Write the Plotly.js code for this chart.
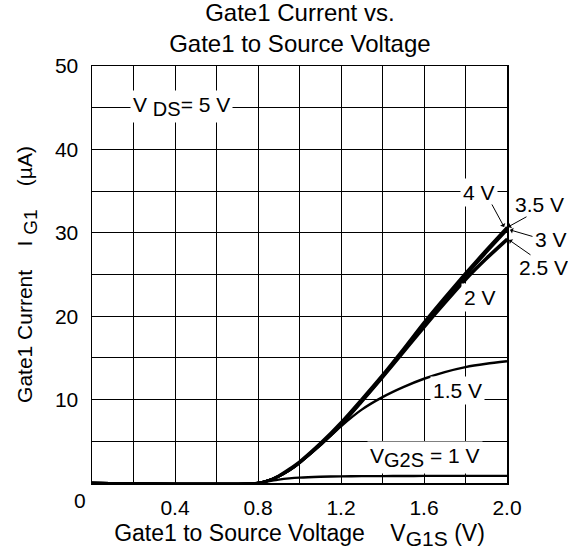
<!DOCTYPE html>
<html>
<head>
<meta charset="utf-8">
<script src="https://cdn.plot.ly/plotly-3.0.1.min.js"></script>
<style>html,body{margin:0;padding:0;background:#fff;}</style>
</head>
<body>
<div id="chart" style="width:568px;height:550px;"></div>
<script>
// Gate1-to-source voltage V_G1S (V)
const vg1s = [0, 0.8, 0.85, 0.9, 0.95, 1.0, 1.1, 1.2, 1.3, 1.4, 1.5, 1.6, 1.7, 1.8, 1.9, 2.0];
// Gate1 current I_G1 (µA) for each V_G2S
const ig1_4V   = [0, 0, 0.3, 0.9, 1.7, 2.6, 4.8, 7.3, 10.1, 13.0, 16.1, 19.3, 22.3, 25.2, 28.0, 30.7];
const ig1_3p5V = [0, 0, 0.3, 0.85, 1.6, 2.5, 4.7, 7.1, 9.9, 12.8, 15.9, 19.1, 22.1, 25.0, 27.8, 30.5];
const ig1_3V   = [0, 0, 0.3, 0.8, 1.5, 2.4, 4.6, 7.0, 9.8, 12.7, 15.8, 18.9, 21.9, 24.8, 27.6, 30.3];
const ig1_2p5V = [0, 0, 0.3, 0.8, 1.5, 2.4, 4.6, 7.0, 9.8, 12.7, 15.7, 18.8, 21.7, 24.5, 27.0, 29.3];
const ig1_2V   = [0, 0, 0.3, 0.8, 1.5, 2.4, 4.5, 6.9, 9.7, 12.6, 15.6, 18.6, 21.5, 24.3, 26.8, 29.1];
const ig1_1p5V = [0, 0, 0.3, 0.8, 1.5, 2.4, 4.5, 6.8, 8.8, 10.3, 11.5, 12.5, 13.3, 13.9, 14.3, 14.6];
const ig1_1V   = [0, 0, 0.2, 0.4, 0.55, 0.65, 0.75, 0.8, 0.82, 0.83, 0.84, 0.85, 0.85, 0.85, 0.85, 0.85];

const seriesNames = ['4 V', '3.5 V', '3 V', '2.5 V', '2 V', '1.5 V', '1 V'];
const seriesData = [ig1_4V, ig1_3p5V, ig1_3V, ig1_2p5V, ig1_2V, ig1_1p5V, ig1_1V];

// Axis ticks / grid
const xGrid = [0, 0.2, 0.4, 0.6, 0.8, 1.0, 1.2, 1.4, 1.6, 1.8, 2.0];
const xTickText = ['', '', '0.4', '', '0.8', '', '1.2', '', '1.6', '', '2.0'];
const yGrid = [0, 5, 10, 15, 20, 25, 30, 35, 40, 45, 50];
const yTickText = ['', '', '10', '', '20', '', '30', '', '40', '', '50'];

const FONT = 'Arial, "Liberation Sans", Helvetica, sans-serif';

const traces = seriesData.map((ys, i) => ({
  x: vg1s, y: ys, name: seriesNames[i], type: 'scatter', mode: 'lines',
  line: {color: '#000', width: 2.4, shape: 'spline', smoothing: 0.8},
  hoverinfo: 'skip'
}));

const sub = (t, s) => '<sub><span style="font-size:' + s + 'px">' + t + '</span></sub>';
const SP = '\u00a0\u00a0\u00a0\u00a0';

const lab = (x, y, text, bg, ref) => ({
  x: x, y: y, xref: ref || 'x', yref: ref ? 'paper' : 'y', text: text, showarrow: false,
  xanchor: 'center', yanchor: 'middle',
  font: {family: FONT, size: 21, color: '#000'},
  bgcolor: bg ? '#fff' : 'rgba(0,0,0,0)', borderpad: 2
});
const arr = (x, y, ax, ay, ref) => ({
  x: x, y: y, xref: ref || 'x', yref: ref ? 'paper' : 'y', text: '', showarrow: true,
  ax: ax, ay: ay, arrowhead: 1, arrowsize: 1, arrowwidth: 1, arrowcolor: '#000'
});

const layout = {
  width: 568, height: 550,
  margin: {l: 92, r: 61, t: 66, b: 67},
  paper_bgcolor: '#fff', plot_bgcolor: '#fff',
  showlegend: false,
  font: {family: FONT, size: 21, color: '#000'},
  title: {
    text: 'Gate1 Current vs.<br>Gate1 to Source Voltage',
    font: {family: FONT, size: 24, color: '#000'},
    x: 0.528, xanchor: 'center', y: 0.962, yanchor: 'top'
  },
  xaxis: {
    range: [0, 2.0], tickmode: 'array', tickvals: xGrid, ticktext: xTickText,
    showgrid: true, gridcolor: '#000', gridwidth: 1, zeroline: false,
    showline: true, linecolor: '#000', linewidth: 1.5, mirror: true,
    ticks: '', ticklabelstandoff: 5,
    tickfont: {family: FONT, size: 21, color: '#000'},
    title: {text: 'Gate1 to Source Voltage\u00a0\u00a0\u00a0\u00a0V' + sub('G1S', 21) + '\u00a0(V)', standoff: 9,
      font: {family: FONT, size: 23, color: '#000'}},
    fixedrange: true
  },
  yaxis: {
    range: [0, 50], tickmode: 'array', tickvals: yGrid, ticktext: yTickText,
    showgrid: true, gridcolor: '#000', gridwidth: 1, zeroline: false,
    showline: true, linecolor: '#000', linewidth: 1.5, mirror: true,
    ticks: '', ticklabelstandoff: 8,
    tickfont: {family: FONT, size: 21, color: '#000'},
    title: {text: 'Gate1 Current' + SP + 'I\u00a0' + sub('G1', 19) + SP + '(\u00b5A)', standoff: 16,
      font: {family: FONT, size: 21, color: '#000'}},
    fixedrange: true
  },
  annotations: [
    {x: (80 - 92) / 415, y: -(500 - 483) / 417, xref: 'paper', yref: 'paper', text: '0', showarrow: false,
     xanchor: 'center', yanchor: 'middle', font: {family: FONT, size: 21, color: '#000'}},
    lab(0.43, 45.2, 'V\u00a0' + sub('DS', 20) + '= 5 V', true),
    lab(1.865, 34.8, '4 V', true),
    lab(1.0795, 0.667, '3.5 V', false, 'paper'),
    lab(1.106, 0.583, '3 V', false, 'paper'),
    lab(1.089, 0.516, '2.5 V', false, 'paper'),
    lab(1.87, 22.2, '2 V', true),
    lab(1.76, 11.1, '1.5 V', true),
    lab(1.605, 3.0, 'V' + sub('G2S', 20) + ' = 1 V', true),
    arr(1.986, 30.7, -13, -24),
    arr(1.0024, 0.614, 20, -11, 'paper'),
    arr(1.0072, 0.607, 24, 7, 'paper'),
    arr(1.0048, 0.583, 23, 16, 'paper')
  ]
};

Plotly.newPlot('chart', traces, layout, {displayModeBar: false, staticPlot: true});
</script>
</body>
</html>
